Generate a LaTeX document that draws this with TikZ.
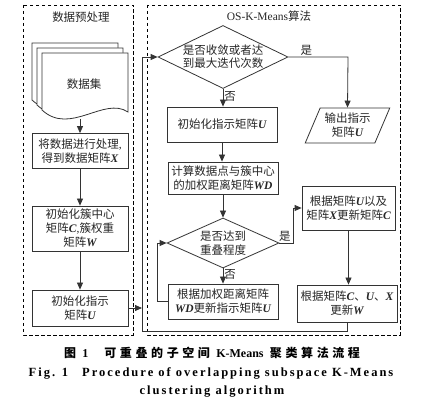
\documentclass[tikz,border=0pt]{standalone}
\usepackage{fontspec}
\setmainfont{Noto Sans CJK SC}
\newfontfamily\latin{Liberation Serif}
\usetikzlibrary{arrows.meta,shapes.geometric}
\newcommand\vb[1]{{\latin\bfseries\itshape #1}}
\newcommand\lt[1]{{\latin #1}}
\begin{document}
\begin{tikzpicture}[x=1pt,y=-1pt,
  every node/.style={font=\fontsize{11.5}{14}\selectfont, text=black!85},
  stepbox/.style={draw=black!80, line width=0.8pt, fill=white, align=center, inner sep=0pt},
  decide/.style={diamond, draw=black!80, line width=0.8pt, align=center, inner sep=0pt},
  frame/.style={draw=black, line width=0.8pt, dash pattern=on 3.5pt off 2.5pt},
  conn/.style={draw=black!80, line width=0.8pt},
  arr/.style={conn, -{Triangle[length=7pt,width=6pt]}},
  lab/.style={inner sep=1pt}
]
\useasboundingbox (0,0) rectangle (442,411);
% frames
\draw[frame] (23,5) rectangle (133,335);
\draw[frame] (147,5) rectangle (400,335);
\node (t1) at (81,17) {数据预处理};
\node (t2) at (269,16) {\lt{OS-K-Means}算法};
% document stack
\foreach \d in {0,5,10}{
  \draw[draw=black!80, line width=0.8pt, fill=white]
    (32+\d,43+\d) -- (118+\d,43+\d) -- (118+\d,102+\d)
    .. controls (94+\d,86+\d) and (60+\d,126+\d) .. (32+\d,100+\d) -- cycle;
}
\node (doc) at (84,84) {数据集};
\coordinate (docb) at (80,119);
% left column
\node[stepbox, minimum width=96pt, minimum height=35pt] (b1) at (80,151) {将数据进行处理\lt{,}\\得到数据矩阵\vb{X}};
\node[stepbox, minimum width=96pt, minimum height=45pt] (b2) at (80,228.5) {初始化簇中心\\矩阵\vb{C}\lt{,}簇权重\\矩阵\vb{W}};
\node[stepbox, minimum width=96pt, minimum height=36pt] (b3) at (80,308) {初始化指示\\矩阵\vb{U}};
% right part
\node[decide, shape aspect=2.06, minimum width=130pt, minimum height=63pt, font=\fontsize{11.5}{13}\selectfont] (d1) at (223,57) {是否收敛或者达\\到最大迭代次数};
\node[stepbox, minimum width=110pt, minimum height=35pt] (b4) at (222,124.5) {初始化指示矩阵\vb{U}};
\node[stepbox, minimum width=110pt, minimum height=32pt] (b5) at (223,178) {计算数据点与簇中心\\的加权距离矩阵\vb{WD}};
\node[decide, shape aspect=2.24, minimum width=112pt, minimum height=50pt] (d2) at (223,243) {是否达到\\重叠程度};
\node[stepbox, minimum width=110pt, minimum height=35pt] (b6) at (223,301.5) {根据加权距离矩阵\\\vb{WD}更新指示矩阵\vb{U}};
\node[trapezium, trapezium left angle=63, trapezium right angle=117, trapezium stretches=true,
  draw=black!80, line width=0.8pt, align=center, inner sep=0pt, minimum width=85pt, minimum height=35pt] (out) at (347.5,125.5) {输出指示\\矩阵\vb{U}};
\node[stepbox, minimum width=93pt, minimum height=44pt] (b7) at (348.5,208) {根据矩阵\vb{U}以及\\矩阵\vb{X}更新矩阵\vb{C}};
\node[stepbox, minimum width=100pt, minimum height=37pt] (b8) at (347,303.5) {根据矩阵\vb{C}、\vb{U}、\vb{X}\\更新\vb{W}};
% coordinates
\coordinate (j1) at (142,308);
\coordinate (lp1) at (348,331);
\coordinate (lp2) at (142,331);
\coordinate (r1) at (348,57);
\coordinate (r2) at (293,243);
\coordinate (l2) at (157,301.5);
% connectors
\draw[arr] (docb) -- (b1.north);
\draw[arr] (b1.south) -- (b2.north);
\draw[arr] (b2.south) -- (b3.north);
\draw[arr] (b3.east) -- (j1);
\draw[arr] (d1.south) -- node[lab, right, pos=0.4] {否} (d1.south |- b4.north);
\draw[arr] (b4.south) -- (b4.south |- b5.north);
\draw[arr] (b5.south) -- (d2.north);
\draw[arr] (d2.south) -- node[lab, right, pos=0.4] {否} (b6.north);
\draw[arr] (b6.west) -- (l2) |- (d2.west);
\draw[arr] (d1.east) -- node[lab, above, pos=0.3] {是} (r1) -- (out.north);
\draw[arr] (d2.east) -- node[lab, above, pos=0.4] {是} (r2) |- (b7.west);
\draw[arr] (b7.south) -- (b7.south |- b8.north);
\draw[arr] (b8.south) -- (b8.south |- lp1) -- (lp2) |- (d1.west);
% caption
\node[font=\fontsize{12}{14}\selectfont\bfseries\addfontfeatures{LetterSpace=30}, text=black] (cap1) at (212,353) {图 \lt{1}\hspace{16pt}可重叠的子空间 \lt{K-Means} 聚类算法流程};
\node[font=\fontsize{12.5}{14}\selectfont\latin\bfseries\addfontfeatures{LetterSpace=16}, text=black] (cap2) at (211,373) {Fig. 1\hspace{14pt}Procedure of overlapping subspace K-Means};
\node[font=\fontsize{12.5}{14}\selectfont\latin\bfseries\addfontfeatures{LetterSpace=16}, text=black] (cap3) at (212,392) {clustering algorithm};
\end{tikzpicture}
\end{document}
